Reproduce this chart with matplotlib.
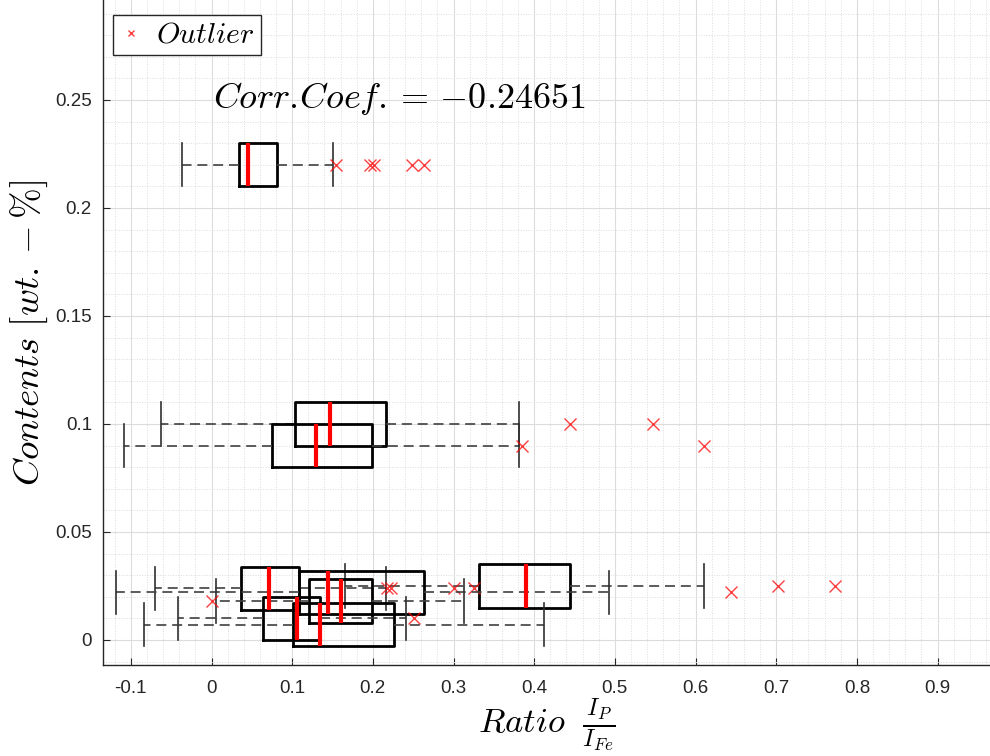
import matplotlib
matplotlib.use('Agg')
import matplotlib.pyplot as plt
from matplotlib.ticker import MultipleLocator, FormatStrFormatter

plt.rcParams['mathtext.fontset'] = 'cm'
plt.rcParams['font.family'] = ['Liberation Sans', 'DejaVu Sans']

# contents (wt-%) -> one horizontal box each, values of the ratio I_P / I_Fe
positions = [0.22, 0.10, 0.09, 0.025, 0.024, 0.022, 0.018, 0.010, 0.007]
whislo = [-0.036, -0.062, -0.108, 0.166, -0.070, -0.119, 0.006, -0.041, -0.084]
q1 = [0.034, 0.104, 0.075, 0.332, 0.037, 0.109, 0.121, 0.064, 0.101]
med = [0.045, 0.147, 0.130, 0.390, 0.071, 0.145, 0.161, 0.106, 0.135]
q3 = [0.081, 0.216, 0.199, 0.444, 0.109, 0.264, 0.199, 0.135, 0.226]
whishi = [0.151, 0.381, 0.381, 0.611, 0.216, 0.493, 0.313, 0.241, 0.412]
outliers = [
    [0.154, 0.196, 0.202, 0.249, 0.263],
    [0.444, 0.547],
    [0.385, 0.610],
    [0.702, 0.773],
    [0.218, 0.223, 0.301, 0.325],
    [0.644],
    [0.0],
    [0.251],
    [],
]
corr = '-0.24651'

xticks = [-0.1, 0, 0.1, 0.2, 0.3, 0.4, 0.5, 0.6, 0.7, 0.8, 0.9]
yticks = [0, 0.05, 0.1, 0.15, 0.2, 0.25]

stats = []
for i in range(len(positions)):
    stats.append({'med': med[i], 'q1': q1[i], 'q3': q3[i],
                  'whislo': whislo[i], 'whishi': whishi[i],
                  'fliers': outliers[i]})

fig = plt.figure(figsize=(9.9, 7.56), dpi=100)
ax = fig.add_axes([103/990, 91/756, 887/990, 665/756])

res = ax.bxp(stats, positions=positions, widths=0.02, capwidths=0.02,
             orientation='horizontal', manage_ticks=False,
             boxprops=dict(color='black', linewidth=2),
             medianprops=dict(color='red', linewidth=3),
             whiskerprops=dict(color='#404040', linewidth=1.2, linestyle=(0, (6, 3.5))),
             capprops=dict(color='#303030', linewidth=1.2),
             flierprops=dict(marker='x', markeredgecolor='red', markersize=8,
                             markeredgewidth=1, alpha=0.75, linestyle='none'))

ax.set_xlim(-0.1345, 0.965)
ax.set_ylim(-0.0116, 0.2963)
ax.set_xticks(xticks)
ax.set_yticks(yticks)
ax.xaxis.set_major_formatter(FormatStrFormatter('%g'))
ax.yaxis.set_major_formatter(FormatStrFormatter('%g'))
ax.xaxis.set_minor_locator(MultipleLocator(0.02))
ax.yaxis.set_minor_locator(MultipleLocator(0.01))
ax.tick_params(which='both', direction='in', labelsize=13.5, colors='#262626')
ax.tick_params(which='minor', length=0)
ax.tick_params(which='major', length=5)
ax.tick_params(axis='x', pad=11)
ax.tick_params(axis='y', pad=8)

ax.grid(True, which='major', color='#dcdcdc', linewidth=0.8)
ax.grid(True, which='minor', color='#dcdcdc', linewidth=0.7, linestyle=':')
ax.set_axisbelow(True)
for s in ['top', 'right']:
    ax.spines[s].set_visible(False)
for s in ['left', 'bottom']:
    ax.spines[s].set_color('#262626')
    ax.spines[s].set_linewidth(1)

ax.text(0.002, 0.2505, r'$Corr.\!Coef. =\, {%s}$' % corr, fontsize=26, va='center')

ax.set_xlabel(r'$Ratio\;\ \frac{I_P}{I_{Fe}}$', fontsize=25, labelpad=0)
ax.set_ylabel(r'$Contents\ [wt. - \%]$', fontsize=26.5, labelpad=4)

leg = ax.legend([res['fliers'][0]], [r'$Outlier$'], loc='upper left',
                bbox_to_anchor=(10/887, 1 - 15/665), borderaxespad=0,
                fontsize=21.5, markerscale=0.6, fancybox=False, framealpha=1,
                edgecolor='#262626', handlelength=0.8, handletextpad=0.45,
                borderpad=0.2)
leg.get_frame().set_linewidth(1)

fig.savefig('out.png', dpi=100)
